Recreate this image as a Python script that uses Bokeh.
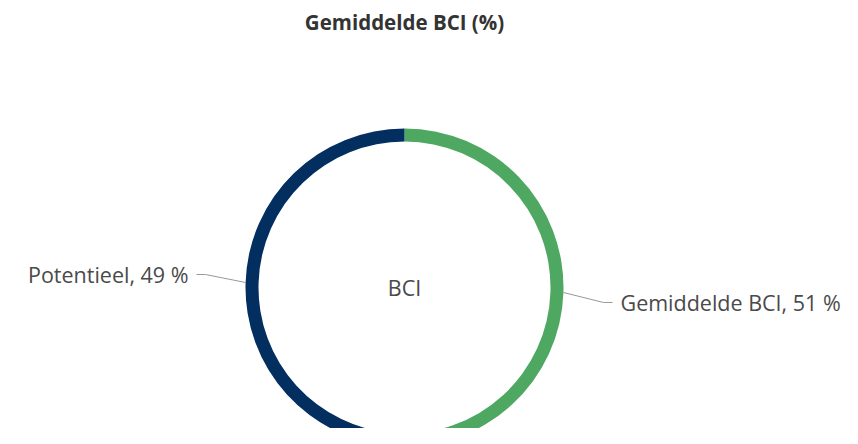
import numpy as np
from bokeh.plotting import figure
from bokeh.models import Range1d, ColumnDataSource
from bokeh.core.properties import value
from bokeh.embed import file_html
from bokeh.resources import INLINE

# ---- data ----
categories = ["Gemiddelde BCI", "Potentieel"]
values = [51, 49]
colors = ["#4fa862", "#032f60"]
title_text = "Gemiddelde BCI (%)"
center_text = "BCI"

# ---- geometry / style ----
W, H = 842, 428
FONT = "Open Sans"
TOP = 444
cx, cy = 404, TOP - 287
R_OUT, R_IN = 159, 146

p = figure(width=W, height=H, output_backend="svg", toolbar_location=None,
           x_range=Range1d(0, W), y_range=Range1d(TOP - H, TOP),
           min_border=0)
p.axis.visible = False
p.grid.visible = False
p.outline_line_color = None
p.background_fill_color = "white"

vals = np.array(values, dtype=float)
frac = vals / vals.sum()
cum = np.cumsum(frac)
prev = cum - frac
start = np.pi / 2 - 2 * np.pi * prev
end = np.pi / 2 - 2 * np.pi * cum
mid = (start + end) / 2

src = ColumnDataSource(dict(start=start, end=end, color=colors))
p.annular_wedge(x=cx, y=cy, inner_radius=R_IN, outer_radius=R_OUT,
                start_angle="start", end_angle="end", direction="clock",
                color="color", line_color=None, source=src)

# leader lines + labels
label_dy = [-10, 8]
for i, cat in enumerate(categories):
    a = mid[i]
    px = cx + R_OUT * np.cos(a)
    py = cy + R_OUT * np.sin(a)
    side = 1 if np.cos(a) >= 0 else -1
    ly = py + label_dy[i]
    bx = cx + side * (R_OUT + 40)
    ex = bx + side * 9
    p.line([px, bx, ex], [py, ly, ly], line_color="#999999", line_width=1)
    lbl = f"{cat}, {values[i]} %"
    p.text(x=[ex + side * 8], y=[ly], text=[lbl],
           text_align="left" if side > 0 else "right", text_baseline="middle",
           text_font=value(FONT), text_font_size="21.5px", text_color="#4a4a4a")

p.text(x=[cx], y=[cy], text=[center_text], text_align="center",
       text_baseline="middle", text_font=value(FONT), text_font_size="21.5px",
       text_color="#4a4a4a")

p.text(x=[cx], y=[TOP - 21], text=[title_text], text_align="center",
       text_baseline="middle", text_font=value(FONT), text_font_size="20.5px",
       text_font_style="bold", text_color="#333333")

open("out.html", "w").write(file_html(p, INLINE))
